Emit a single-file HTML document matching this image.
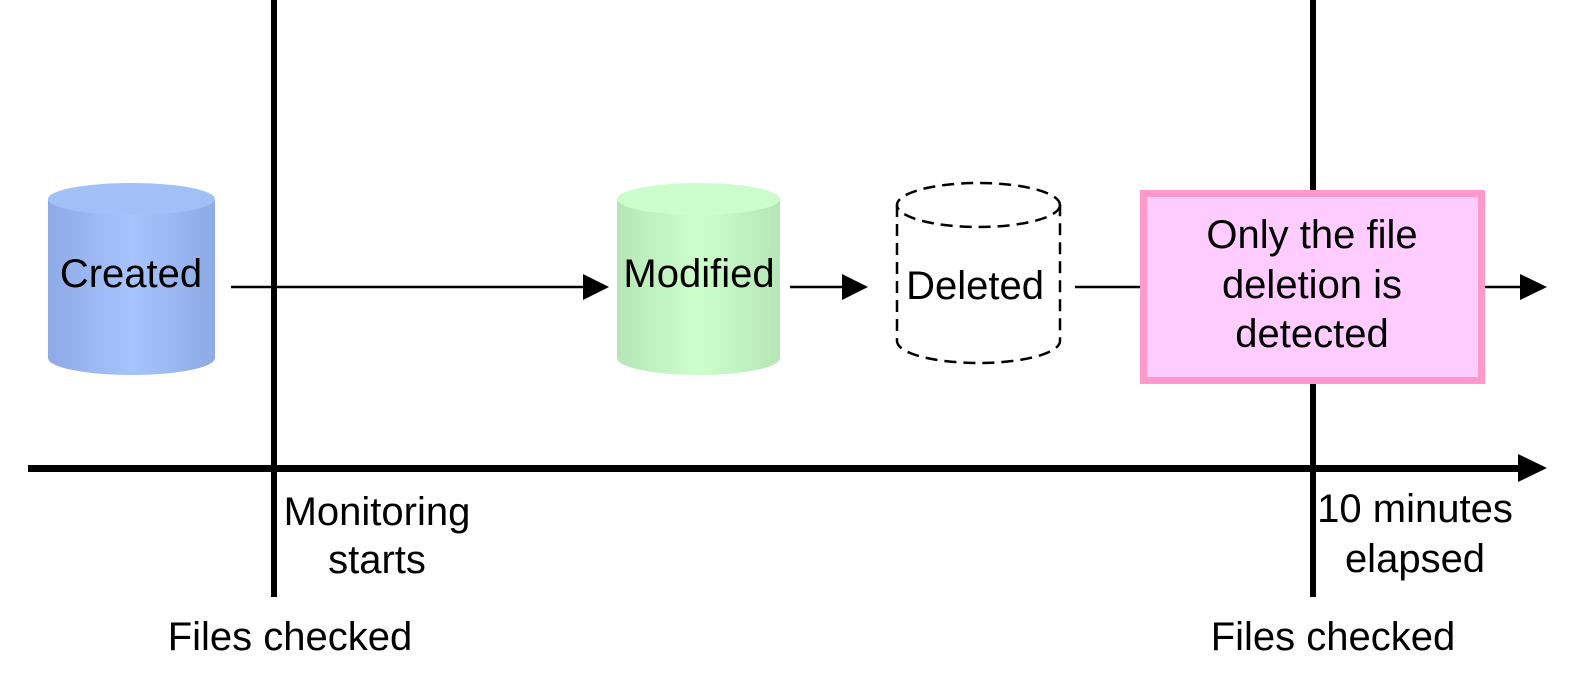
<!DOCTYPE html>
<html><head><meta charset="utf-8"><style>
html,body{margin:0;padding:0;background:#fff;width:1576px;height:689px;overflow:hidden}
svg{display:block}
text{font-family:"Liberation Sans",Arial,sans-serif;font-size:40px;fill:#000}
</style></head><body>
<svg width="1576" height="689" viewBox="0 0 1576 689" xmlns="http://www.w3.org/2000/svg">
<defs>
<linearGradient id="gb" x1="0" x2="1" y1="0" y2="0">
<stop offset="0" stop-color="#8eaae6"/><stop offset="0.5" stop-color="#a6c4fd"/><stop offset="1" stop-color="#8eaae6"/>
</linearGradient>
<linearGradient id="gg" x1="0" x2="1" y1="0" y2="0">
<stop offset="0" stop-color="#b6e6b6"/><stop offset="0.5" stop-color="#ccffcc"/><stop offset="1" stop-color="#b6e6b6"/>
</linearGradient>
</defs>
<rect x="271" y="0" width="6" height="597" fill="#000"/>
<rect x="1310" y="0" width="6" height="597" fill="#000"/>
<rect x="28" y="465" width="1495" height="7" fill="#000"/>
<polygon points="1518,454 1547,468 1518,482" fill="#000"/>
<path d="M48,199 L48,358 A83.5,17 0 0 0 215,358 L215,199 Z" fill="url(#gb)"/>
<ellipse cx="131.5" cy="199" rx="83.5" ry="16" fill="#a2c0f8"/>
<text x="131" y="287" text-anchor="middle">Created</text>
<line x1="231" y1="287" x2="585" y2="287" stroke="#000" stroke-width="2.5"/>
<polygon points="583,274 609,287 583,300" fill="#000"/>
<path d="M617,199 L617,358 A81.5,17 0 0 0 780,358 L780,199 Z" fill="url(#gg)"/>
<ellipse cx="698.5" cy="199" rx="81.5" ry="16" fill="#ccfdcc"/>
<text x="699" y="287" text-anchor="middle">Modified</text>
<line x1="790" y1="287" x2="845" y2="287" stroke="#000" stroke-width="2.5"/>
<polygon points="842,274 868,287 842,300" fill="#000"/>
<g fill="none" stroke="#000" stroke-width="2.5" stroke-dasharray="12,7">
<ellipse cx="978.5" cy="205" rx="81.5" ry="22"/>
<path d="M897,205 L897,341 A81.5,22 0 0 0 1060,341 L1060,205"/>
</g>
<text x="975" y="299" text-anchor="middle">Deleted</text>
<line x1="1075" y1="287" x2="1140" y2="287" stroke="#000" stroke-width="2.5"/>
<rect x="1143.5" y="193.5" width="338" height="187" fill="#ffccff" stroke="#ff99cc" stroke-width="7"/>
<text x="1312" y="248" text-anchor="middle">Only the file</text>
<text x="1312" y="298" text-anchor="middle">deletion is</text>
<text x="1312" y="347" text-anchor="middle">detected</text>
<line x1="1485" y1="287" x2="1522" y2="287" stroke="#000" stroke-width="2.5"/>
<polygon points="1520,274 1547,287 1520,300" fill="#000"/>
<text x="377" y="525" text-anchor="middle">Monitoring</text>
<text x="377" y="573" text-anchor="middle">starts</text>
<text x="290" y="650" text-anchor="middle">Files checked</text>
<text x="1415" y="522" text-anchor="middle">10 minutes</text>
<text x="1415" y="572" text-anchor="middle">elapsed</text>
<text x="1333" y="650" text-anchor="middle">Files checked</text>
</svg>
</body></html>
